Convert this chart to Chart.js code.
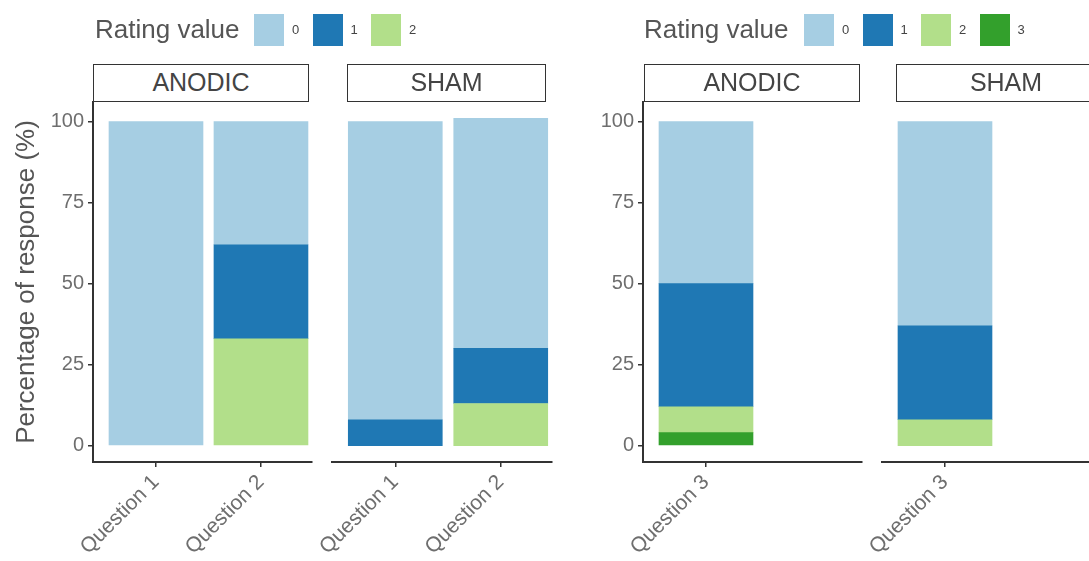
<!DOCTYPE html>
<html>
<head>
<meta charset="utf-8">
<script src="https://cdn.jsdelivr.net/npm/chart.js@4.4.0/dist/chart.umd.min.js"></script>
<style>
html,body{margin:0;padding:0;background:#fff;overflow:hidden;width:1089px;height:561px;}
#wrap{position:relative;width:1089px;height:561px;overflow:hidden;font-family:"Liberation Sans",Arial,sans-serif;}
#wrap canvas{position:absolute;left:0;top:0;}
.strip{position:absolute;box-sizing:border-box;border:1.5px solid #333;background:#fff;color:#444;font-size:25px;text-align:center;line-height:35px;height:38px;top:64px;white-space:nowrap;overflow:hidden;}
.lgTitle{position:absolute;top:13px;font-size:26px;line-height:32px;color:#555;}
.lgBox{position:absolute;top:14px;width:30px;height:32px;}
.lgLab{position:absolute;top:14px;font-size:13px;line-height:32px;color:#444;}
</style>
</head>
<body>
<div id="wrap"></div>
<script>
// ---------------- data ----------------
const legendTitle = 'Rating value';
const ratingLabels = ['0', '1', '2', '3'];
const ratingColors = ['#A6CEE3', '#1F78B4', '#B2DF8A', '#33A02C'];
const groups = ['ANODIC', 'SHAM'];
const yTickValues = [0, 25, 50, 75, 100];
const yTitle = 'Percentage of response (%)';

const leftQuestions = ['Question 1', 'Question 2'];
const rightQuestions = ['Question 3'];

// Left panel (% of responses for each rating value)
const leftAnodicR0 = [100, 38];
const leftAnodicR1 = [0, 29];
const leftAnodicR2 = [0, 33];
const leftShamR0 = [92, 71];
const leftShamR1 = [8, 17];
const leftShamR2 = [0, 13];

// Right panel
const rightAnodicR0 = [50];
const rightAnodicR1 = [38];
const rightAnodicR2 = [8];
const rightAnodicR3 = [4];
const rightShamR0 = [63];
const rightShamR1 = [29];
const rightShamR2 = [8];
const rightShamR3 = [0];

// ---------------- layout ----------------
const FONT = '"Liberation Sans", Arial, sans-serif';
const CW = 1110, CH = 561;
const wrap = document.getElementById('wrap');

function makeFacet(questions, series, cfg) {
  const cv = document.createElement('canvas');
  cv.width = CW; cv.height = CH;
  cv.style.width = CW + 'px'; cv.style.height = CH + 'px';
  wrap.appendChild(cv);
  const datasets = series.map((vals, r) => ({
    label: ratingLabels[r],
    data: questions.map((q, i) => ({ x: i + 1, y: vals[i] === 0 ? null : vals[i] })),
    backgroundColor: ratingColors[r],
    borderWidth: 0,
    barThickness: 94
  })).reverse();
  new Chart(cv, {
    type: 'bar',
    data: { datasets },
    options: {
      responsive: false,
      animation: false,
      events: [],
      layout: { padding: { left: cfg.padLeft, right: CW - cfg.right, top: 102, bottom: 0 } },
      plugins: { legend: { display: false }, tooltip: { enabled: false } },
      scales: {
        x: {
          type: 'linear', stacked: true, min: 0.4, max: 2.486, offset: false,
          afterBuildTicks: s => { s.ticks = questions.map((q, i) => ({ value: i + 1 })); },
          afterFit: s => { s.height = 99; },
          ticks: {
            autoSkip: false, maxRotation: 45, minRotation: 45, padding: 3,
            color: '#6e6e6e', font: { size: 21, family: FONT },
            callback: (v, i) => questions[i]
          },
          grid: { offset: false, drawOnChartArea: false, drawTicks: true, tickLength: 5, color: '#333', lineWidth: 1.5 },
          border: { display: true, color: '#333', width: 2 }
        },
        y: {
          type: 'linear', stacked: true, min: -5.05, max: 106.05,
          display: cfg.showY,
          afterBuildTicks: s => { s.ticks = yTickValues.map(v => ({ value: v })); },
          afterFit: s => { if (cfg.showY) s.width = cfg.yWidth; },
          ticks: { color: '#6e6e6e', font: { size: 20, family: FONT }, padding: 4 },
          grid: { drawOnChartArea: false, drawTicks: true, tickLength: 5, color: '#333', lineWidth: 1.5 },
          border: { display: true, color: '#333', width: 2 },
          title: {
            display: !!cfg.title, text: yTitle, color: '#555',
            font: { size: 26, family: FONT }, padding: { top: 11, bottom: 0 }
          }
        }
      }
    }
  });
}

makeFacet(leftQuestions, [leftAnodicR0, leftAnodicR1, leftAnodicR2],
  { padLeft: 0, right: 312, showY: true, yWidth: 93, title: true });
makeFacet(leftQuestions, [leftShamR0, leftShamR1, leftShamR2],
  { padLeft: 332, right: 552, showY: false });
makeFacet(rightQuestions, [rightAnodicR0, rightAnodicR1, rightAnodicR2, rightAnodicR3],
  { padLeft: 590, right: 862, showY: true, yWidth: 53, title: false });
makeFacet(rightQuestions, [rightShamR0, rightShamR1, rightShamR2, rightShamR3],
  { padLeft: 882, right: 1101, showY: false });

// strips
function strip(text, left, width) {
  const d = document.createElement('div');
  d.className = 'strip';
  d.style.left = left + 'px'; d.style.width = width + 'px';
  d.textContent = text;
  wrap.appendChild(d);
}
strip(groups[0], 93, 216);
strip(groups[1], 347, 199);
strip(groups[0], 644, 216);
strip(groups[1], 896, 220);

// legends
function legend(x0, boxStart, n) {
  const t = document.createElement('div');
  t.className = 'lgTitle'; t.style.left = x0 + 'px'; t.textContent = legendTitle;
  wrap.appendChild(t);
  for (let i = 0; i < n; i++) {
    const bx = boxStart + i * 58.5;
    const b = document.createElement('div');
    b.className = 'lgBox'; b.style.left = bx + 'px'; b.style.background = ratingColors[i];
    wrap.appendChild(b);
    const l = document.createElement('div');
    l.className = 'lgLab'; l.style.left = (bx + 38) + 'px'; l.textContent = ratingLabels[i];
    wrap.appendChild(l);
  }
}
legend(95, 254, 3);
legend(644, 804, 4);
</script>
</body>
</html>
